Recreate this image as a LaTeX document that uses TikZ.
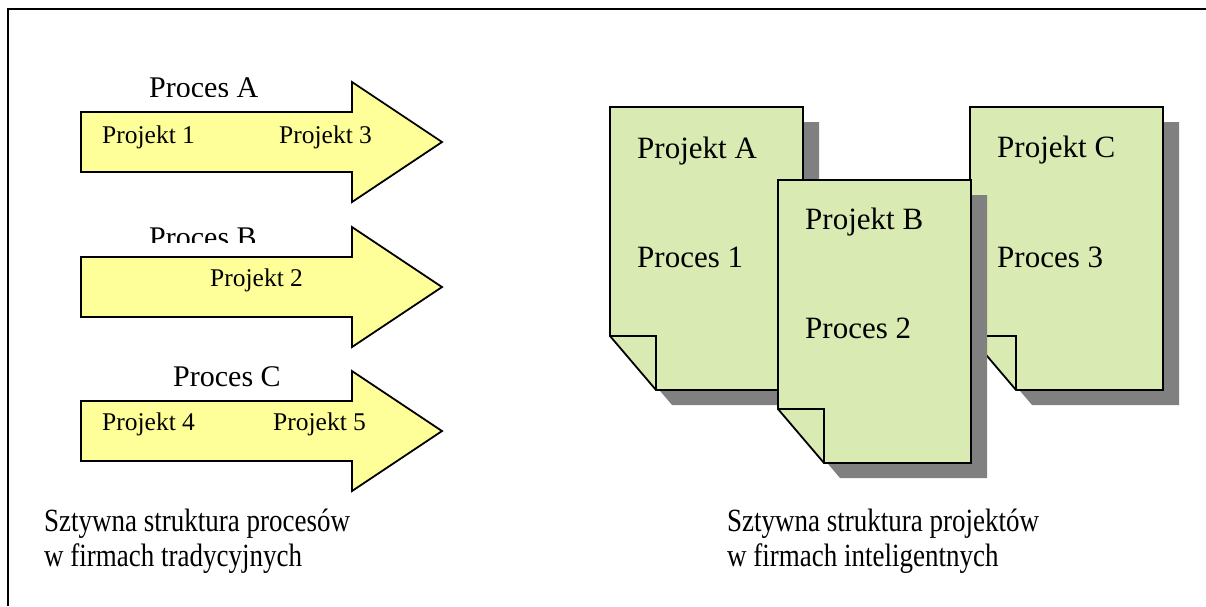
\documentclass[tikz,border=0pt]{standalone}
\usepackage{fontspec}
\setmainfont{Liberation Serif}
\definecolor{arrowfill}{RGB}{255,255,153}
\definecolor{docfill}{RGB}{217,234,179}
\definecolor{docshadow}{RGB}{128,128,128}
\newcommand{\tallcap}[1]{\scalebox{1}[1.2]{#1}}
\begin{document}
\begin{tikzpicture}[x=1pt,y=-1pt,line join=miter,
  outline/.style={draw=black,line width=1.8pt},
  proctitle/.style={inner sep=0pt,anchor=base west,font=\fontsize{30}{36}\selectfont},
  projsmall/.style={inner sep=0pt,anchor=base west,font=\fontsize{25.5}{30}\selectfont},
  doclabel/.style={inner sep=0pt,anchor=base west,font=\fontsize{31}{37}\selectfont},
  captext/.style={inner sep=0pt,anchor=base west,font=\fontsize{27}{34}\selectfont},
  procarrow/.pic={
    \filldraw[fill=arrowfill,outline]
      (81,0) -- (352,0) -- (352,-30) -- (442,30) -- (352,90) -- (352,60) -- (81,60) -- cycle;
  },
  docsheet/.pic={
    \fill[docshadow] (16,15) -- (209,15) -- (209,298) -- (62,298) -- (16,244) -- cycle;
    \filldraw[fill=docfill,outline] (0,0) -- (193,0) -- (193,283) -- (46,283) -- (0,229) -- cycle;
    \draw[outline] (0,229) -- (46,229) -- (46,283);
  }]
\useasboundingbox (0,0) rectangle (1206,606);

% outer frame (only the top and left sides are in view)
\draw[line width=2pt] (8,606) -- (8,9) -- (1206,9);

% process titles, cut off at their lower edge
\begin{scope}
  \clip (0,0) rectangle (1206,96);
  \node[proctitle] (procA) at (149,97) {Proces A};
\end{scope}
\begin{scope}
  \clip (0,200) rectangle (1206,242);
  \node[proctitle] (procB) at (149,247) {Proces B};
\end{scope}
\node[proctitle] (procC) at (173,386) {Proces C};

% process arrows
\pic at (0,112) {procarrow};
\pic at (0,257) {procarrow};
\pic at (0,401) {procarrow};

\node[projsmall] (p1) at (102,143) {Projekt 1};
\node[projsmall] (p3) at (279,143) {Projekt 3};
\node[projsmall] (p2) at (210,286) {Projekt 2};
\node[projsmall] (p4) at (102,430) {Projekt 4};
\node[projsmall] (p5) at (273,430) {Projekt 5};

% project sheets: A and C behind, B on top
\pic at (610,107) {docsheet};
\pic at (970,107) {docsheet};
\pic at (778,180) {docsheet};

\node[doclabel] (projA) at (637,158) {Projekt A};
\node[doclabel] (proc1) at (637,267) {Proces 1};
\node[doclabel] (projC) at (997,157) {Projekt C};
\node[doclabel] (proc3) at (997,267) {Proces 3};
\node[doclabel] (projB) at (805,229) {Projekt B};
\node[doclabel] (proc2) at (805,338) {Proces 2};

% captions
\node[captext] (capL1) at (44,531) {\tallcap{Sztywna struktura procesów}};
\node[captext] (capL2) at (44,566) {\tallcap{w firmach tradycyjnych}};
\node[captext] (capR1) at (727,531) {\tallcap{Sztywna struktura projektów}};
\node[captext] (capR2) at (727,566) {\tallcap{w firmach inteligentnych}};
\end{tikzpicture}
\end{document}
